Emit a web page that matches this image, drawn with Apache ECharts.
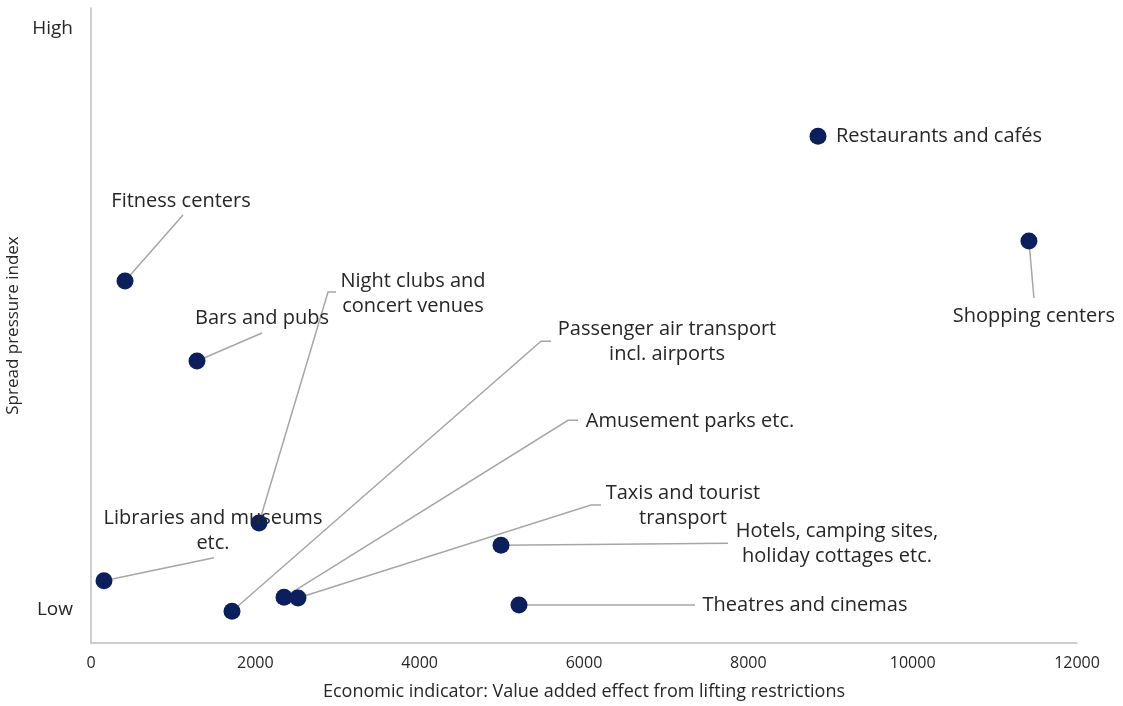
<!DOCTYPE html>
<html><head><meta charset="utf-8">
<script src="https://cdn.jsdelivr.net/npm/echarts@6/dist/echarts.min.js"></script>
<style>html,body{margin:0;padding:0;background:#fff}#c{width:1123px;height:706px}</style>
</head><body><div id="c"></div>
<script>
const categories = ["Fitness centers","Bars and pubs","Night clubs and\nconcert venues","Libraries and museums\netc.","Passenger air transport\nincl. airports","Amusement parks etc.","Taxis and tourist\ntransport","Hotels, camping sites,\nholiday cottages etc.","Theatres and cinemas","Restaurants and cafés","Shopping centers"];
const valueAdded = [414, 1290, 2045, 158, 1716, 2349, 2519, 4990, 5209, 8848, 11415];
const spreadIndex = [57.0, 44.4, 18.9, 9.8, 5.0, 7.2, 7.1, 15.4, 6.0, 79.8, 63.3];
const xTicks = [0, 2000, 4000, 6000, 8000, 10000, 12000];
const yTickValues = [5.2, 96.7];
const yTickLabels = ["Low", "High"];
// label offsets and leader-line ends, in pixels relative to each point (style only)
const labelOffsets = [[56,-80],[65,-43],[154,-229],[109,-50],[435,-269],[406,-176],[385,-92],[336,-1],[286,0],[121,0],[5,75]];
const leaderEnds = [[58,-66],[65,-28],[69,-231],[110,-23],[309,-270],[284,-177],[293,-93],[227,-2],[176,0],null,[5,57]];
const leaderHooks = [0,0,8,0,10,10,10,0,0,0,0];

const chart = echarts.init(document.getElementById('c'), null, {renderer:'canvas'});
const FONT = 'Open Sans';
const TXT = '#262626';
const data = categories.map((n,i)=>({
  name:n, value:[valueAdded[i], spreadIndex[i]],
  label:{offset:labelOffsets[i]}
}));
chart.setOption({
  animation:false,
  grid:{left:91,right:46,top:8,bottom:63,outerBoundsMode:'none',containLabel:false},
  xAxis:{type:'value',min:0,max:12000,interval:2000,
    axisLine:{show:true,lineStyle:{color:'#bfbfbf',width:1.5}},
    axisTick:{show:false},splitLine:{show:false},
    axisLabel:{color:TXT,fontFamily:FONT,fontSize:16,margin:12,formatter:v=>String(v)},
    name:'Economic indicator: Value added effect from lifting restrictions',
    nameLocation:'middle',nameGap:40,nameTextStyle:{color:TXT,fontFamily:FONT,fontSize:18}
  },
  yAxis:{type:'value',min:0,max:100,
    axisLine:{show:true,lineStyle:{color:'#bfbfbf',width:1.5}},
    axisTick:{show:false},splitLine:{show:false},
    axisLabel:{customValues:yTickValues,color:TXT,fontFamily:FONT,fontSize:19,margin:18,
      formatter:(v)=>{const i=yTickValues.indexOf(v);return i>=0?yTickLabels[i]:'';}},
    name:'Spread pressure index',nameLocation:'middle',nameGap:66,
    nameTextStyle:{color:TXT,fontFamily:FONT,fontSize:17}
  },
  series:[{
    type:'scatter',symbolSize:17,z:3,
    itemStyle:{color:'#0a1f5c',opacity:1},
    data:data,
    label:{show:true,position:'inside',formatter:p=>p.name,color:TXT,
      fontFamily:FONT,fontSize:20,lineHeight:25,align:'center'},
    emphasis:{disabled:true}
  }]
});

const lines = [];
categories.forEach((n,i)=>{
  if(!leaderEnds[i]) return;
  const p = chart.convertToPixel({seriesIndex:0},[valueAdded[i], spreadIndex[i]]);
  const e = [p[0]+leaderEnds[i][0], p[1]+leaderEnds[i][1]];
  const pts = [p, e];
  if(leaderHooks[i]) pts.push([e[0]+leaderHooks[i], e[1]]);
  lines.push({type:'polyline',z:1,silent:true,shape:{points:pts},
    style:{stroke:'#a6a6a6',lineWidth:1.5,fill:null}});
});
chart.setOption({graphic:lines});
</script></body></html>
